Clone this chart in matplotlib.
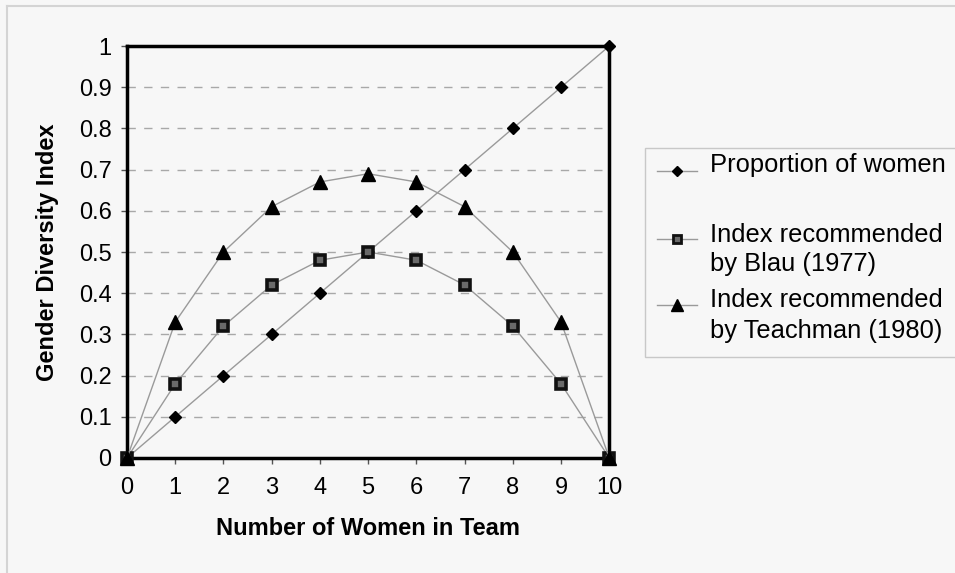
import matplotlib
matplotlib.use("Agg")
import matplotlib.pyplot as plt
from matplotlib.lines import Line2D
from matplotlib.patches import Rectangle

plt.rcParams['font.family'] = ['Liberation Sans', 'DejaVu Sans']

women = [0, 1, 2, 3, 4, 5, 6, 7, 8, 9, 10]
proportion = [0.0, 0.1, 0.2, 0.3, 0.4, 0.5, 0.6, 0.7, 0.8, 0.9, 1.0]
blau = [0.0, 0.18, 0.32, 0.42, 0.48, 0.50, 0.48, 0.42, 0.32, 0.18, 0.0]
teachman = [0.0, 0.33, 0.50, 0.61, 0.67, 0.69, 0.67, 0.61, 0.50, 0.33, 0.0]
legend_lines = [["Proportion of women"],
                ["Index recommended", "by Blau (1977)"],
                ["Index recommended", "by Teachman (1980)"]]

bg = "#f7f7f7"
line_col = "#9a9a9a"
fs = 17
W, H = 955, 573

fig = plt.figure(figsize=(W / 100, H / 100), dpi=100, facecolor=bg)


def px(x, y):
    """Pixel position (from top-left) to figure fraction."""
    return x / W, 1 - y / H


# faint outer border of the chart area
fig.add_artist(Line2D([px(7, 0)[0], px(7, 0)[0]], [px(0, 6)[1], px(0, 573)[1]],
                      transform=fig.transFigure, color="#d4d4d4", lw=1.5))
fig.add_artist(Line2D([px(7, 0)[0], 1], [px(0, 6)[1], px(0, 6)[1]],
                      transform=fig.transFigure, color="#d4d4d4", lw=1.5))

ax = fig.add_axes([0.133, 0.2007, 0.505, 0.719], facecolor=bg)

styles = [
    dict(marker='D', ms=6, mfc='black', mec='black'),
    dict(marker='s', ms=7.5, mfc='#6a6a6a', mec='#111111', mew=2.6),
    dict(marker='^', ms=10, mfc='black', mec='black'),
]
for series, st in zip([proportion, blau, teachman], styles):
    ax.plot(women, series, color=line_col, lw=1.0, zorder=3, clip_on=False, **st)

ax.set_xlim(0, 10)
ax.set_ylim(0, 1)
ax.set_xticks(women)
yt = [i / 10 for i in range(11)]
ax.set_yticks(yt)
ax.set_yticklabels(["0"] + [f"{v:.1f}" for v in yt[1:-1]] + ["1"])
for v in yt[1:-1]:
    ax.axhline(v, color="#a8a8a8", lw=1.0, ls=(0, (6, 6)), zorder=1)

for s in ax.spines.values():
    s.set_linewidth(2.5)
    s.set_color("black")
ax.tick_params(axis='both', labelsize=fs, colors='black', length=4, width=1,
               color='#555555')
ax.tick_params(axis='x', pad=10)
ax.tick_params(axis='y', pad=7)
ax.set_xlabel("Number of Women in Team", fontsize=fs, fontweight='bold', labelpad=13)
ax.set_ylabel("Gender Diversity Index", fontsize=fs, fontweight='bold', labelpad=14)

# legend box with its entries
x0, y0 = px(645, 357)
x1, y1 = px(962, 148)
fig.add_artist(Rectangle((x0, y0), x1 - x0, y1 - y0, transform=fig.transFigure,
                         facecolor=bg, edgecolor="#c8c8c8", lw=1.0))
entry_marker_y = [171, 239, 305]
entry_text_y = [[165], [235, 264], [300, 331]]
leg_styles = [
    dict(marker='D', ms=5, mfc='black', mec='black'),
    dict(marker='s', ms=5.5, mfc='#6a6a6a', mec='#111111', mew=2.0),
    dict(marker='^', ms=8, mfc='black', mec='black'),
]
for my, tys, lines, st in zip(entry_marker_y, entry_text_y, legend_lines, leg_styles):
    xa, ya = px(657, my)
    xb, _ = px(697, my)
    xm, _ = px(677, my)
    fig.add_artist(Line2D([xa, xb], [ya, ya], transform=fig.transFigure,
                          color=line_col, lw=1.0))
    fig.add_artist(Line2D([xm], [ya], transform=fig.transFigure, lw=0, **st))
    for ty, txt in zip(tys, lines):
        tx, tyf = px(710, ty)
        fig.text(tx, tyf, txt, fontsize=18.4, va='center', ha='left')

fig.savefig("out.png", dpi=100, facecolor=bg)
